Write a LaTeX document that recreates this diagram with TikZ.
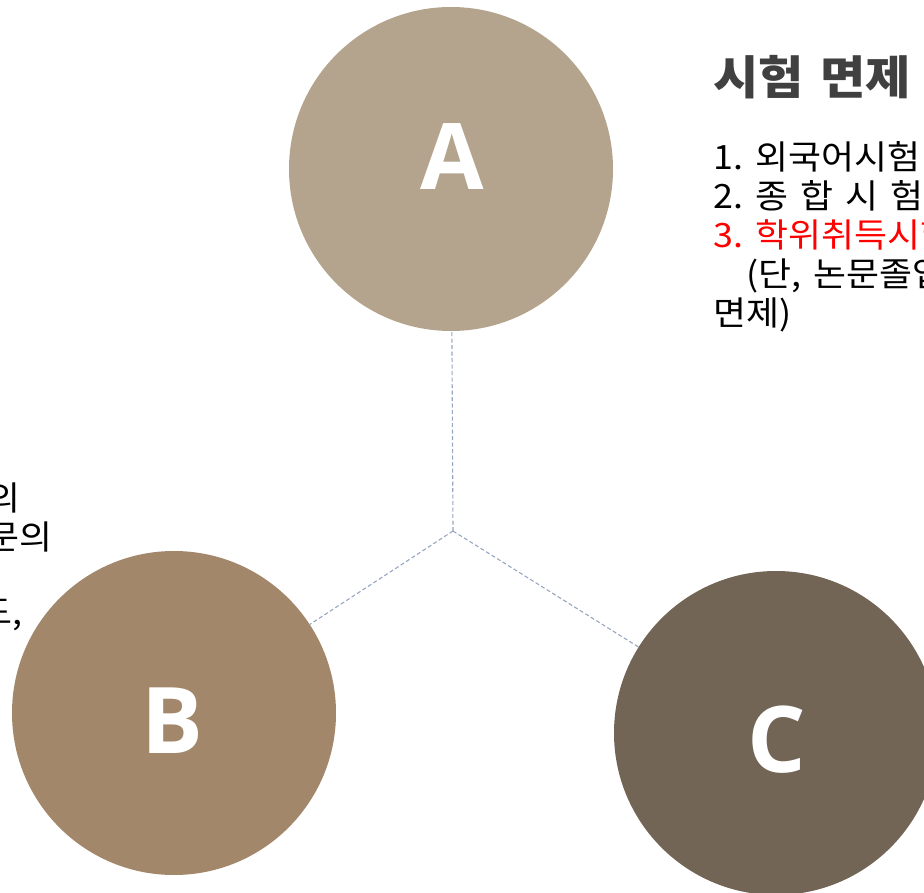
\documentclass[tikz,border=0pt]{standalone}
\usepackage{fontspec}
\setmainfont[WordSpace=1.5,FakeStretch=1.07]{Noto Sans CJK KR}
\newfontfamily\letterfont{Open Sans}
\definecolor{circA}{HTML}{B4A48D}
\definecolor{circB}{HTML}{A3876B}
\definecolor{circC}{HTML}{736555}
\definecolor{linkgray}{HTML}{97A6BF}
\definecolor{titlegray}{HTML}{404040}
\newcommand\itemno[1]{\makebox[42pt][l]{#1}}
\begin{document}
\begin{tikzpicture}[x=1pt,y=-1pt,
	circ/.style={circle,minimum size=324pt,inner sep=0pt},
	letter/.style={anchor=base,inner sep=0pt,text=white,font=\letterfont\bfseries\fontsize{92}{92}\selectfont},
	link/.style={draw=linkgray,line width=1.1pt,dash pattern=on 4pt off 2.5pt},
	item/.style={anchor=base west,inner sep=0pt,font=\fontsize{33.5}{40}\selectfont}]
	\useasboundingbox (0,0) rectangle (924,893);
	\clip (0,0) rectangle (924,893);
	\node[circ,fill=circA] (1) at (451,169) {}; \node[circ,fill=circB] (2) at (174,713) {}; \node[circ,fill=circC] (3) at (776,733) {};
	\node[letter] (a) at (452,190) {A}; \node[letter] (b) at (172,753) {B}; \node[letter] (c) at (777,772) {C};
	\coordinate (0) at (453,531);
	\draw[link] (0) -- (1);
	\draw[link] (0) -- (2);
	\draw[link] (0) -- (3);
	% text on the right
	\node[item,font=\bfseries\fontsize{46}{50}\selectfont,text=titlegray] (t) at (713,95) {시험 면제};
	\node[item] (i1) at (713,170) {\itemno{1.}외국어시험};
	\node[item] (i2) at (713,209) {\itemno{2.}종 합 시 험};
	\node[item,text=red] (i3) at (713,248) {\itemno{3.}학위취득시험};
	\node[item] (i4) at (746,287) {(단, 논문졸업};
	\node[item] (i5) at (713,326) {면제)};
	% text cut at the left edge
	\node[item,anchor=base east] (l1) at (21,510) {의};
	\node[item,anchor=base east] (l2) at (53,549) {문의};
	\node[item,anchor=base east] (l3) at (23,624) {도,};
\end{tikzpicture}
\end{document}
